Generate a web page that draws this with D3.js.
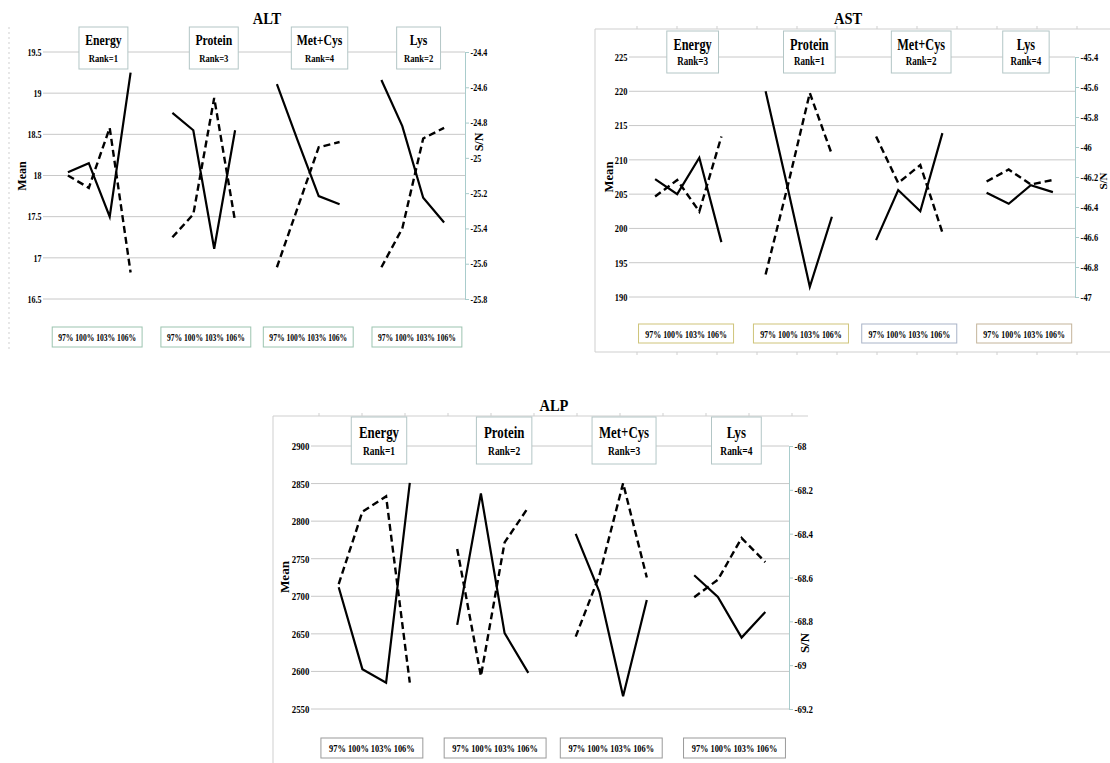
<!DOCTYPE html>
<html>
<head>
<meta charset="utf-8">
<script src="https://cdn.jsdelivr.net/npm/d3@7"></script>
<style>
  html, body { margin: 0; padding: 0; background: #fff; }
  svg { display: block; }
  text { font-family: "Liberation Serif", "Times New Roman", serif; font-weight: bold; fill: #000; }
</style>
</head>
<body>
<svg id="chart" width="1110" height="763"></svg>
<script>
// ---- data ----
const factors = ["Energy", "Protein", "Met+Cys", "Lys"];
const levels = ["97%", "100%", "103%", "106%"];

const altRanks = [1, 3, 4, 2];
const altMean = [
  [18.04, 18.15, 17.50, 19.25],
  [18.76, 18.55, 17.11, 18.55],
  [19.11, 18.42, 17.75, 17.65],
  [19.16, 18.60, 17.73, 17.43]
];
const altSN = [
  [-25.10, -25.17, -24.83, -25.65],
  [-25.45, -25.32, -24.66, -25.36],
  [-25.62, -25.28, -24.94, -24.91],
  [-25.62, -25.40, -24.89, -24.83]
];
const altMeanTicks = [16.5, 17, 17.5, 18, 18.5, 19, 19.5];
const altSNTicks = [-25.8, -25.6, -25.4, -25.2, -25, -24.8, -24.6, -24.4];

const astRanks = [3, 1, 2, 4];
const astMean = [
  [207.2, 205.0, 210.3, 198.0],
  [220.0, 205.9, 191.5, 201.7],
  [198.3, 205.6, 202.5, 213.9],
  [205.2, 203.6, 206.3, 205.3]
];
const astSN = [
  [-46.33, -46.22, -46.43, -45.93],
  [-46.85, -46.26, -45.64, -46.05],
  [-45.93, -46.24, -46.12, -46.57],
  [-46.23, -46.15, -46.25, -46.22]
];
const astMeanTicks = [190, 195, 200, 205, 210, 215, 220, 225];
const astSNTicks = [-47, -46.8, -46.6, -46.4, -46.2, -46, -45.8, -45.6, -45.4];

const alpRanks = [1, 2, 3, 4];
const alpMean = [
  [2712, 2603, 2585, 2851],
  [2662, 2837, 2651, 2598],
  [2783, 2706, 2567, 2695],
  [2728, 2699, 2645, 2679]
];
const alpSN = [
  [-68.63, -68.30, -68.23, -69.08],
  [-68.47, -69.05, -68.44, -68.28],
  [-68.87, -68.59, -68.17, -68.60],
  [-68.69, -68.61, -68.42, -68.53]
];
const alpMeanTicks = [2550, 2600, 2650, 2700, 2750, 2800, 2850, 2900];
const alpSNTicks = [-69.2, -69, -68.8, -68.6, -68.4, -68.2, -68];

// ---- layout of the three panels ----
const panels = [
  {
    title: "ALT", ranks: altRanks, mean: altMean, sn: altSN,
    meanTicks: altMeanTicks, snTicks: altSNTicks,
    x0: 47, x1: 465, yTop: 52, yBot: 299, titleX: 267, titleY: 24,
    scale: 1.0, hdrTop: 25, hdrH: 42, nameDy: 18, rankDy: 35,
    ftDy: 28, ftH: 20, meanX: 22, meanY: 176, snX: 479, snY: 142, snSize: 12,
    footStroke: ["#9cc4b0", "#9cc4b0", "#9cc4b0", "#9cc4b0"],
    frame: { left: 9, top: 27, bottom: 352, dotted: true }
  },
  {
    title: "AST", ranks: astRanks, mean: astMean, sn: astSN,
    meanTicks: astMeanTicks, snTicks: astSNTicks,
    x0: 633, x1: 1075, yTop: 57, yBot: 297, titleX: 848, titleY: 24,
    scale: 1.05, hdrTop: 26, hdrH: 42, nameDy: 19, rankDy: 34,
    ftDy: 27, ftH: 19, meanX: 609, meanY: 177, snX: 1103, snY: 181, snSize: 11,
    footStroke: ["#cfc47a", "#cfc47a", "#a9b4c8", "#c4b49a"],
    frame: { left: 595, top: 29, bottom: 352, right: 1110, tickStart: 637, tickStep: 40 }
  },
  {
    title: "ALP", ranks: alpRanks, mean: alpMean, sn: alpSN,
    meanTicks: alpMeanTicks, snTicks: alpSNTicks,
    x0: 315, x1: 789, yTop: 446, yBot: 709, titleX: 554, titleY: 411,
    scale: 1.1, hdrTop: 29, hdrH: 47, nameDy: 21, rankDy: 38,
    ftDy: 29, ftH: 20, meanX: 284, meanY: 577, snX: 804, snY: 643, snSize: 13,
    footStroke: ["#9a9a9a", "#9a9a9a", "#9a9a9a", "#9a9a9a"],
    frame: { left: 273, top: 416, bottom: 763, right: 808, tickStart: 319, tickStep: 43 }
  }
];

// header / footer box placement, in slot units relative to each group centre
const hdrOffset = [0.2, 0.48, 0.54, 0.28];
const hdrWidth = [2.34, 2.34, 2.7, 2.1];
const ftOffset = [-0.1, 0.1, 0.0, 0.2];
const ftWidth = 4.3;

const SQ = 0.78;           // horizontal squeeze of the serif text
const svg = d3.select("#chart");
const fmt = v => String(v).replace("\u2212", "-");

function label(g, x, y, str, size, anchor, sx) {
  return g.append("text")
    .attr("transform", `translate(${x},${y}) scale(${sx == null ? SQ : sx},1)`)
    .attr("text-anchor", anchor || "middle")
    .style("font-size", size + "px")
    .text(str);
}

panels.forEach(p => {
  const g = svg.append("g");
  const xs = d3.scaleLinear().domain([-1, 19]).range([p.x0, p.x1]);
  const slot = xs(1) - xs(0);
  const yL = d3.scaleLinear().domain(d3.extent(p.meanTicks)).range([p.yBot, p.yTop]);
  const yR = d3.scaleLinear().domain(d3.extent(p.snTicks)).range([p.yBot, p.yTop]);
  const pos = (gi, i) => xs(gi * 5 + i);

  // outer frame
  const f = p.frame;
  const fr = g.append("g").attr("stroke", "#cfcfcf").attr("fill", "none");
  fr.append("line").attr("x1", f.left).attr("x2", f.left).attr("y1", f.top).attr("y2", f.bottom)
    .attr("stroke-dasharray", f.dotted ? "2,3" : null);
  if (f.right) {
    fr.append("line").attr("x1", f.left).attr("x2", f.right).attr("y1", f.top).attr("y2", f.top);
    d3.range(f.tickStart, f.right, f.tickStep).forEach(tx => {
      fr.append("line").attr("x1", tx).attr("x2", tx).attr("y1", f.top - 3).attr("y2", f.top);
    });
    if (f.bottom < 763) {
      fr.append("line").attr("x1", f.left).attr("x2", f.right).attr("y1", f.bottom).attr("y2", f.bottom);
      d3.range(f.tickStart, f.right, f.tickStep).forEach(tx => {
        fr.append("line").attr("x1", tx).attr("x2", tx).attr("y1", f.bottom).attr("y2", f.bottom + 3);
      });
    }
  }

  // horizontal gridlines
  g.append("g").selectAll("line").data(p.meanTicks).join("line")
    .attr("x1", p.x0 - 4).attr("x2", p.x1)
    .attr("y1", d => yL(d)).attr("y2", d => yL(d))
    .attr("stroke", "#c8c8c8").attr("stroke-width", 1);

  // left axis (Mean)
  const ax = g.append("g").attr("transform", `translate(${p.x0},0)`)
    .call(d3.axisLeft(yL).tickValues(p.meanTicks).tickFormat(fmt).tickSize(0).tickPadding(7));
  ax.select(".domain").remove();
  ax.selectAll("text")
    .attr("transform", "scale(0.8,1)")
    .style("font-family", "'Liberation Serif', serif").style("font-weight", "bold")
    .style("font-size", (10 * p.scale) + "px");

  // right axis (S/N)
  const ar = g.append("g").attr("transform", `translate(${p.x1},0)`)
    .call(d3.axisRight(yR).tickValues(p.snTicks).tickFormat(fmt).tickSize(4).tickSizeOuter(0).tickPadding(3));
  ar.select(".domain").attr("stroke", "#a9cccc");
  ar.selectAll("line").attr("stroke", "#a9cccc");
  ar.selectAll("text")
    .attr("transform", "scale(0.8,1)")
    .style("font-family", "'Liberation Serif', serif").style("font-weight", "bold")
    .style("font-size", (10 * p.scale) + "px");

  // series lines: solid = Mean (left axis), dashed = S/N (right axis)
  const lineL = d3.line().x(d => d.x).y(d => yL(d.v));
  const lineR = d3.line().x(d => d.x).y(d => yR(d.v));
  factors.forEach((name, gi) => {
    const m = p.mean[gi].map((v, i) => ({ x: pos(gi, i), v }));
    const s = p.sn[gi].map((v, i) => ({ x: pos(gi, i), v }));
    g.append("path").attr("d", lineR(s)).attr("fill", "none")
      .attr("stroke", "#000").attr("stroke-width", 2.4).attr("stroke-dasharray", "7,4");
    g.append("path").attr("d", lineL(m)).attr("fill", "none")
      .attr("stroke", "#000").attr("stroke-width", 2.2);
  });

  // factor header boxes
  factors.forEach((name, gi) => {
    const cx = pos(gi, 1.5) + hdrOffset[gi] * slot;
    const w = hdrWidth[gi] * slot;
    const top = p.yTop - p.hdrTop;
    g.append("rect").attr("x", cx - w / 2).attr("y", top).attr("width", w).attr("height", p.hdrH)
      .attr("fill", "#fff").attr("stroke", "#b3c6c6").attr("stroke-width", 1);
    label(g, cx, top + p.nameDy, name, 15 * p.scale);
    label(g, cx, top + p.rankDy, "Rank=" + p.ranks[gi], 11 * p.scale);
  });

  // level boxes under each group
  factors.forEach((name, gi) => {
    const cx = pos(gi, 1.5) + ftOffset[gi] * slot;
    const w = ftWidth * slot;
    const top = p.yBot + p.ftDy;
    g.append("rect").attr("x", cx - w / 2).attr("y", top).attr("width", w).attr("height", p.ftH)
      .attr("fill", "#fff").attr("stroke", p.footStroke[gi]).attr("stroke-width", 1);
    label(g, cx, top + 14, levels.join(" "), 10 * p.scale, "middle", 0.76);
  });

  // titles
  label(g, p.titleX, p.titleY, p.title, 17, "middle", 0.85);
  g.append("text").attr("transform", `translate(${p.meanX},${p.meanY}) rotate(-90)`)
    .attr("text-anchor", "middle").attr("dy", "0.35em")
    .style("font-size", (12 * p.scale) + "px").text("Mean");
  g.append("text").attr("transform", `translate(${p.snX},${p.snY}) rotate(-90)`)
    .attr("text-anchor", "middle").attr("dy", "0.35em")
    .style("font-size", p.snSize + "px").text("S/N");
});
</script>
</body>
</html>
